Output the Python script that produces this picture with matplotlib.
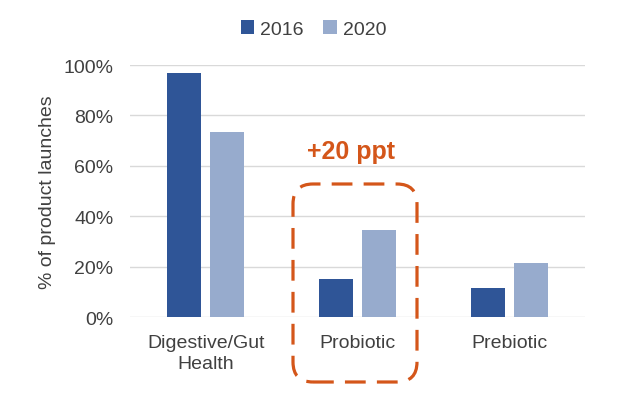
import matplotlib
matplotlib.use("Agg")
import matplotlib.pyplot as plt
import numpy as np
from matplotlib.patches import FancyBboxPatch
from matplotlib.transforms import IdentityTransform
from matplotlib.ticker import PercentFormatter

categories = ["Digestive/Gut\nHealth", "Probiotic", "Prebiotic"]
years = ["2016", "2020"]
values_2016 = [96.8, 15.1, 11.5]
values_2020 = [73.4, 34.5, 21.4]

dark_blue = "#2F5597"
light_blue = "#97ABCD"
orange = "#D4561A"
text_gray = "#404040"

plt.rcParams["font.family"] = ["Liberation Sans", "DejaVu Sans"]

fig = plt.figure(figsize=(6.27, 4.06), dpi=100)
ax = fig.add_axes([0.2073, 0.2167, 0.7257, 0.6207])

x = np.arange(len(categories))
w = 0.225
off = 0.142
ax.bar(x - off, values_2016, w, color=dark_blue, label=years[0], zorder=3)
ax.bar(x + off, values_2020, w, color=light_blue, label=years[1], zorder=3)

ax.set_xlim(-0.5, 2.5)
ax.set_ylim(0, 100)
ax.set_yticks(np.arange(0, 101, 20))
ax.yaxis.set_major_formatter(PercentFormatter(decimals=0))
ax.set_xticks(x)
ax.set_xticklabels(categories, linespacing=1.35)
ax.tick_params(length=0, labelsize=14, colors=text_gray)
ax.tick_params(axis="x", pad=12)
ax.tick_params(axis="y", pad=12)
for s in ax.spines.values():
    s.set_visible(False)
ax.grid(axis="y", color="#D9D9D9", linewidth=1, zorder=0)
ax.set_ylabel("% of product launches", fontsize=14, color=text_gray, labelpad=5)

leg = fig.legend(loc="center", bbox_to_anchor=(0.5, 0.926), ncol=2, frameon=False,
                 fontsize=14, handlelength=0.7, handleheight=0.7, handletextpad=0.3,
                 columnspacing=1.0)
for t in leg.get_texts():
    t.set_color(text_gray)

# annotation for probiotic growth
fig.text(351 / 627, 1 - 152 / 406, "+20 ppt", fontsize=18, fontweight="bold",
         color=orange, ha="center", va="center")
box = FancyBboxPatch((293, 23), 124, 198, boxstyle="round,pad=0,rounding_size=20",
                     transform=IdentityTransform(), fill=False, edgecolor=orange,
                     linewidth=2.3, linestyle=(0, (6.5, 3.5)))
fig.patches.append(box)

fig.savefig("out.png", dpi=100)
